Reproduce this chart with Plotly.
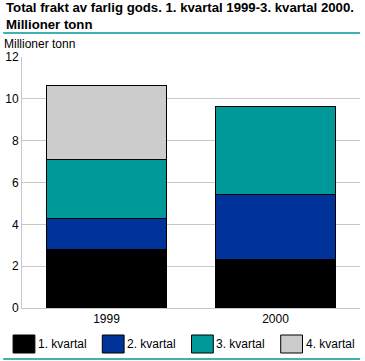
import plotly.graph_objects as go

years = ["1999", "2000"]
series_names = ["1. kvartal", "2. kvartal", "3. kvartal", "4. kvartal"]
q1 = [2.82, 2.30]
q2 = [1.45, 3.11]
q3 = [2.84, 4.21]
q4 = [3.51, None]
colors = ["#000000", "#003399", "#009999", "#cccccc"]
y_ticks = [0, 2, 4, 6, 8, 10, 12]

values = [q1, q2, q3, q4]
fig = go.Figure()
for name, vals, col in zip(series_names, values, colors):
    fig.add_trace(go.Bar(
        x=years, y=vals, name=name, marker_color=col,
        marker_line_color="#000000", marker_line_width=1,
        width=0.71, showlegend=False,
    ))

font = "Liberation Sans, Arial, sans-serif"
fig.update_layout(
    barmode="stack",
    width=365, height=361,
    margin=dict(l=19, r=5, t=57, b=53),
    paper_bgcolor="white", plot_bgcolor="white",
    font=dict(family=font, size=12, color="#000000"),
    bargap=0.29,
)
fig.update_yaxes(
    range=[0, 12], tickvals=y_ticks, showgrid=True, gridcolor="#c8c8c8",
    gridwidth=1, showline=True, linecolor="#c8c8c8", linewidth=1,
    ticks="", zeroline=False, tickfont=dict(size=12),
)
fig.update_xaxes(
    showline=True, linecolor="#c8c8c8", linewidth=1, ticks="",
    tickfont=dict(size=12),
)

# Title and header
fig.add_annotation(
    text="<b>Total frakt av farlig gods. 1. kvartal 1999-3. kvartal 2000.<br>Millioner tonn</b>",
    xref="paper", yref="paper", x=0, xanchor="left", xshift=-18,
    y=1, yanchor="bottom", yshift=23, align="left", showarrow=False,
    font=dict(size=13.2, family=font),
)
fig.add_annotation(
    text="Millioner tonn", xref="paper", yref="paper", x=0, xanchor="left",
    xshift=-20, y=1, yanchor="bottom", yshift=4, showarrow=False,
    font=dict(size=12, family=font),
)
# Teal rules
fig.add_shape(type="line", xref="paper", yref="paper", x0=-19/341, x1=1, y0=(308-33)/251, y1=(308-33)/251,
              line=dict(color="#009999", width=1.5))
fig.add_shape(type="line", xref="paper", yref="paper", x0=-19/341, x1=1, y0=(308-359)/251, y1=(308-359)/251,
              line=dict(color="#009999", width=1.5))

# Legend (manual)
legend_x = [10, 100, 190, 280]
for lx, name, col in zip(legend_x, series_names, colors):
    x0 = (lx - 19) / 341
    x1 = (lx + 22 - 19) / 341
    y0 = (308 - 353) / 251
    y1 = (308 - 335) / 251
    fig.add_shape(type="rect", xref="paper", yref="paper", x0=x0, x1=x1, y0=y0, y1=y1,
                  fillcolor=col, line=dict(color="#000000", width=1))
    fig.add_annotation(text=name, xref="paper", yref="paper", x=x1, xanchor="left", xshift=1,
                       y=(y0 + y1) / 2, yanchor="middle", showarrow=False,
                       font=dict(size=12, family=font))

fig.write_html("out.html", config={"displayModeBar": False},
               post_script="document.body.style.margin='0';document.body.style.overflow='hidden';")
